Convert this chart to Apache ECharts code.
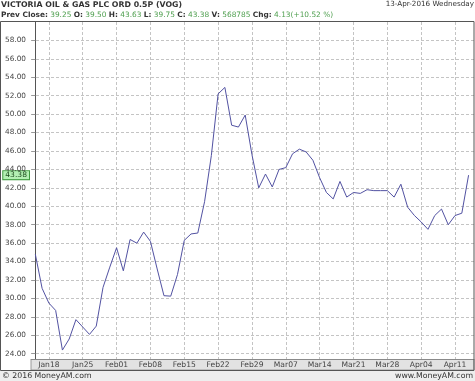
<!DOCTYPE html>
<html>
<head>
<meta charset="utf-8">
<script src="https://cdn.jsdelivr.net/npm/echarts@6/dist/echarts.min.js"></script>
<style>html,body{margin:0;padding:0;background:#fff}#c{width:475px;height:381px}</style>
</head>
<body>
<div id="c"></div>
<script>
// ---- data ----
const dates = [
  '2016-01-14','2016-01-15',
  '2016-01-18','2016-01-19','2016-01-20','2016-01-21','2016-01-22',
  '2016-01-25','2016-01-26','2016-01-27','2016-01-28','2016-01-29',
  '2016-02-01','2016-02-02','2016-02-03','2016-02-04','2016-02-05',
  '2016-02-08','2016-02-09','2016-02-10','2016-02-11','2016-02-12',
  '2016-02-15','2016-02-16','2016-02-17','2016-02-18','2016-02-19',
  '2016-02-22','2016-02-23','2016-02-24','2016-02-25','2016-02-26',
  '2016-02-29','2016-03-01','2016-03-02','2016-03-03','2016-03-04',
  '2016-03-07','2016-03-08','2016-03-09','2016-03-10','2016-03-11',
  '2016-03-14','2016-03-15','2016-03-16','2016-03-17','2016-03-18',
  '2016-03-21','2016-03-22','2016-03-23','2016-03-24','2016-03-25',
  '2016-03-28','2016-03-29','2016-03-30','2016-03-31','2016-04-01',
  '2016-04-04','2016-04-05','2016-04-06','2016-04-07','2016-04-08',
  '2016-04-11','2016-04-12','2016-04-13'
];
const prices = [
  34.8, 31.1,
  29.5, 28.7, 24.4, 25.6, 27.7,
  26.9, 26.1, 27.0, 31.2, 33.4,
  35.5, 33.0, 36.4, 36.0, 37.2,
  36.2, 33.2, 30.3, 30.25, 32.6,
  36.3, 37.0, 37.1, 40.5, 45.5,
  52.2, 52.9, 48.8, 48.6, 49.9,
  45.6, 42.0, 43.5, 42.1, 44.0,
  44.2, 45.7, 46.2, 45.9, 45.0,
  43.1, 41.5, 40.8, 42.7, 41.0,
  41.5, 41.4, 41.8, 41.7, 41.7,
  41.7, 41.0, 42.4, 39.9, 39.0,
  38.3, 37.5, 39.0, 39.7, 38.0,
  39.0, 39.25, 43.38
];
const xTickLabels = ['Jan18','Jan25','Feb01','Feb08','Feb15','Feb22','Feb29','Mar07','Mar14','Mar21','Mar28','Apr04','Apr11'];
const yTickValues = [24,26,28,30,32,34,36,38,40,42,44,46,48,50,52,54,56,58];
const titleText = 'VICTORIA OIL & GAS PLC ORD 0.5P (VOG)';
const dateText = '13-Apr-2016 Wednesday';
const statNames = ['Prev Close:', 'O:', 'H:', 'L:', 'C:', 'V:', 'Chg:'];
const statValues = ['39.25', '39.50', '43.63', '39.75', '43.38', '568785', '4.13(+10.52 %)'];
const lastPrice = 43.38;
const footerLeft = '\u00a9 2016 MoneyAM.com';
const footerRight = 'www.MoneyAM.com';

// ---- build ----
const MONTHS = ['Jan','Feb','Mar','Apr','May','Jun','Jul','Aug','Sep','Oct','Nov','Dec'];
function shortLabel(d) {
  const p = d.split('-');
  return MONTHS[parseInt(p[1], 10) - 1] + p[2];
}
const labelIdx = xTickLabels.map(l => dates.findIndex(d => shortLabel(d) === l));
const tickIdx = [0].concat(labelIdx);
const seriesData = prices.map((v, i) => [i, v]);

const FONT = '"DejaVu Sans", Verdana, sans-serif';
const statRich = statNames.map((n, i) => '{b|' + n + '} {v|' + statValues[i] + '}').join(' ');

const chart = echarts.init(document.getElementById('c'), null, {renderer: 'canvas'});
chart.setOption({
  animation: false,
  backgroundColor: '#ffffff',
  grid: {left: 31, right: 1, top: 22, bottom: 22, containLabel: false},
  xAxis: {
    type: 'value',
    min: -0.64,
    max: 64.8,
    z: 5,
    axisLine: {show: true, lineStyle: {color: '#8a8a8a', width: 1}},
    axisTick: {show: false, customValues: tickIdx},
    axisLabel: {
      customValues: labelIdx,
      formatter: v => shortLabel(dates[Math.round(v)]),
      fontFamily: FONT, fontSize: 7.6, color: '#444', margin: 2
    },
    splitLine: {show: true, lineStyle: {color: '#c4c4c4', type: [3, 2], width: 1}}
  },
  yAxis: {
    type: 'value',
    min: 23.43,
    max: 60.0,
    z: 5,
    axisLine: {show: true, lineStyle: {color: '#555', width: 1}},
    axisTick: {show: true, length: 4, customValues: yTickValues, lineStyle: {color: '#999'}},
    axisLabel: {
      customValues: yTickValues,
      formatter: v => v.toFixed(2),
      fontFamily: FONT, fontSize: 7.3, color: '#444', margin: 5
    },
    splitLine: {show: true, lineStyle: {color: '#c4c4c4', type: [3, 2], width: 1}}
  },
  series: [{
    type: 'line',
    z: 6,
    data: seriesData,
    showSymbol: false,
    lineStyle: {color: '#5252a2', width: 1},
    markLine: {
      silent: true,
      symbol: 'none',
      data: [{yAxis: lastPrice}],
      lineStyle: {color: 'rgba(0,0,0,0)', width: 0},
      label: {
        show: true,
        position: 'start',
        distance: 2,
        formatter: () => lastPrice.toFixed(2),
        fontFamily: FONT, fontSize: 7.6, color: '#1e4a1e',
        backgroundColor: '#b4f0b4',
        borderColor: '#3f9a3f', borderWidth: 1,
        padding: [0, 2, 0, 2]
      }
    }
  }],
  graphic: [
    {type: 'rect', z: -1, shape: {x: 31, y: 359.5, width: 443, height: 10.5}, style: {fill: '#e2e2e2', stroke: '#9a9a9a', lineWidth: 1}},
    {type: 'rect', z: -1, shape: {x: 0, y: 370.5, width: 475, height: 11}, style: {fill: '#eeeeee'}},
    {type: 'rect', z: 110, shape: {x: 0.5, y: 21.5, width: 473.5, height: 349}, style: {fill: 'none', stroke: '#555', lineWidth: 1}},
    {type: 'text', z: 110, left: 1, top: 1, style: {text: titleText, font: 'bold 7.8px ' + FONT, fill: '#333'}},
    {type: 'text', z: 110, right: 1, top: 1, style: {text: dateText, font: '7.2px ' + FONT, fill: '#333'}},
    {type: 'text', z: 110, left: 1, top: 12, style: {
      text: statRich,
      font: '7.4px ' + FONT,
      rich: {
        b: {fontWeight: 'bold', fontSize: 7.4, fontFamily: FONT, fill: '#333'},
        v: {fontSize: 7.4, fontFamily: FONT, fill: '#4f9f4f'}
      }
    }},
    {type: 'text', z: 110, left: 2, top: 372, style: {text: footerLeft, font: '7.8px ' + FONT, fill: '#333'}},
    {type: 'text', z: 110, right: 2, top: 372, style: {text: footerRight, font: '7.8px ' + FONT, fill: '#333'}}
  ]
});
</script>
</body>
</html>
